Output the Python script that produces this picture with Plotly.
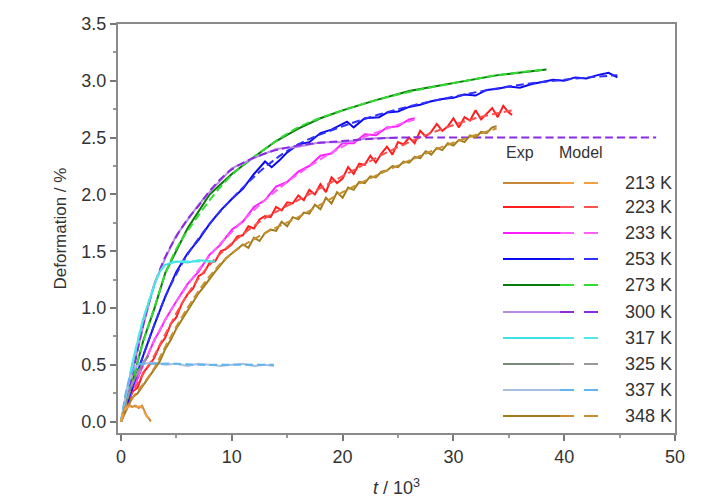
import plotly.graph_objects as go

# ---------------- data (t in 10^3, deformation in %) ----------------
temps = ["213 K", "223 K", "233 K", "253 K", "273 K", "300 K", "317 K", "325 K", "337 K", "348 K"]

exp_213_t = [0, 0.2, 0.4, 0.7, 1.0, 1.3, 1.6, 1.9, 2.1, 2.3, 2.5, 2.7]
exp_213_y = [0, 0.08, 0.13, 0.15, 0.13, 0.14, 0.12, 0.14, 0.10, 0.05, 0.03, 0.0]
mod_213_t = [0, 0.3, 0.6, 1.2, 1.8, 2.2, 2.7]
mod_213_y = [0, 0.10, 0.13, 0.13, 0.13, 0.07, 0.0]

exp_223_t = [0, 0.5, 1, 1.5, 2, 2.5, 3, 3.5, 4, 4.5, 5, 5.5, 6, 6.5, 7, 7.5, 8, 8.5, 9, 9.5,
             10, 10.5, 11, 11.5, 12, 12.5, 13, 13.5, 14, 14.5, 15, 15.5, 16, 16.5, 17, 17.5,
             18, 18.5, 19, 19.5, 20, 20.5, 21, 21.5, 22, 22.5, 23, 23.5, 24, 24.5, 25, 25.5,
             26, 26.5, 27, 27.5, 28, 28.5, 29, 29.5, 30, 30.5, 31, 31.5, 32, 32.5, 33, 33.5,
             34, 34.5, 35, 35.3]
exp_223_y = [0.00, 0.13, 0.26, 0.30, 0.43, 0.49, 0.56, 0.67, 0.74, 0.86, 0.92, 1.04, 1.12, 1.17,
             1.28, 1.31, 1.40, 1.41, 1.50, 1.52, 1.56, 1.63, 1.64, 1.72, 1.70, 1.78, 1.81, 1.80,
             1.89, 1.86, 1.93, 1.92, 1.99, 1.95, 2.04, 2.00, 2.09, 2.02, 2.15, 2.10, 2.14, 2.24,
             2.18, 2.27, 2.26, 2.34, 2.28, 2.36, 2.42, 2.35, 2.46, 2.44, 2.50, 2.45, 2.56, 2.51,
             2.55, 2.62, 2.56, 2.60, 2.67, 2.59, 2.68, 2.65, 2.74, 2.66, 2.71, 2.76, 2.68, 2.78,
             2.72, 2.70]
mod_223_t = [0, 1, 2, 3, 4, 6, 8, 10, 13, 16, 20, 24, 28, 32, 35.3]
mod_223_y = [0, 0.25, 0.42, 0.58, 0.77, 1.12, 1.38, 1.57, 1.79, 1.95, 2.16, 2.37, 2.54, 2.67, 2.74]

exp_233_t = [0, 0.5, 1, 1.5, 2, 2.5, 3, 3.5, 4, 5, 6, 7, 8, 9, 10, 11, 12, 13, 14, 15, 16,
             17, 18, 19, 20, 21, 22, 23, 24, 25, 26, 26.5]
exp_233_y = [0, 0.15, 0.28, 0.38, 0.50, 0.60, 0.72, 0.80, 0.90, 1.06, 1.21, 1.32, 1.47, 1.56,
             1.69, 1.76, 1.89, 1.95, 2.07, 2.11, 2.20, 2.25, 2.34, 2.36, 2.45, 2.45, 2.53, 2.52,
             2.59, 2.60, 2.66, 2.67]
mod_233_t = [0, 1, 2, 4, 6, 8, 10, 13, 16, 20, 24, 26.5]
mod_233_y = [0, 0.28, 0.50, 0.90, 1.20, 1.46, 1.67, 1.95, 2.18, 2.42, 2.58, 2.66]

exp_253_t = [0, 1, 2, 3, 4, 5, 6, 7, 8, 9, 10, 11, 12, 13, 13.6, 14.3, 15, 16, 17, 18, 19,
             20.4, 21, 22, 23.3, 24, 25, 26, 27, 28, 29, 30, 31, 32, 33, 34, 35, 36, 37, 38,
             39, 40, 41, 42, 43, 44, 44.8]
exp_253_y = [0, 0.30, 0.58, 0.85, 1.10, 1.32, 1.48, 1.60, 1.74, 1.86, 1.96, 2.05, 2.18, 2.29,
             2.24, 2.30, 2.37, 2.44, 2.46, 2.54, 2.57, 2.64, 2.59, 2.67, 2.68, 2.72, 2.73, 2.77,
             2.79, 2.82, 2.84, 2.85, 2.88, 2.87, 2.92, 2.93, 2.95, 2.94, 2.97, 2.99, 3.01, 3.00,
             3.03, 3.02, 3.05, 3.07, 3.03]
mod_253_t = [0, 1, 2, 3, 4, 5, 6, 8, 10, 13, 16, 20, 25, 30, 35, 40, 44.8]
mod_253_y = [0, 0.30, 0.58, 0.85, 1.10, 1.30, 1.47, 1.74, 1.96, 2.24, 2.44, 2.60, 2.75, 2.86,
             2.95, 3.01, 3.05]

exp_273_t = [0, 1, 2, 3, 4, 5, 6, 8, 10, 12, 14, 16, 18, 20, 23, 26, 30, 34, 38.4]
exp_273_y = [0, 0.34, 0.71, 0.99, 1.31, 1.51, 1.70, 2.00, 2.18, 2.33, 2.47, 2.58, 2.67, 2.74,
             2.83, 2.91, 2.98, 3.05, 3.10]
mod_273_t = [0, 1, 2, 3, 4, 5, 6.3, 8.5, 10, 12, 16, 20, 25, 30, 34, 38.4]
mod_273_y = [0, 0.35, 0.70, 1.00, 1.30, 1.52, 1.72, 2.01, 2.17, 2.33, 2.59, 2.74, 2.88, 2.98,
             3.05, 3.10]

exp_300_t = [0, 0.5, 1, 2, 3, 4, 5, 6, 7, 8, 10, 12, 14, 16, 18, 20, 22, 25]
exp_300_y = [0, 0.21, 0.41, 0.84, 1.21, 1.44, 1.64, 1.77, 1.91, 2.02, 2.23, 2.32, 2.40, 2.42,
             2.46, 2.46, 2.49, 2.50]
mod_300_t = [0, 0.5, 1, 2, 3, 4, 5, 6, 7, 8, 10, 13, 16, 20, 25, 30, 40, 48.3]
mod_300_y = [0, 0.20, 0.40, 0.85, 1.20, 1.45, 1.63, 1.78, 1.90, 2.03, 2.22, 2.36, 2.43, 2.47,
             2.50, 2.50, 2.50, 2.50]

exp_317_t = [0, 0.5, 1, 2, 3, 3.5, 4, 5, 6, 7, 8.5]
exp_317_y = [0, 0.24, 0.50, 0.90, 1.20, 1.32, 1.38, 1.41, 1.40, 1.42, 1.41]
mod_317_t = [0, 0.5, 1, 2, 3, 3.5, 4, 5, 6, 7, 8.5]
mod_317_y = [0, 0.25, 0.50, 0.90, 1.20, 1.32, 1.38, 1.41, 1.41, 1.41, 1.41]

exp_325_t = [0, 0.5, 1, 1.5, 2, 2.5]
exp_325_y = [0, 0.18, 0.33, 0.42, 0.52, 0.58]
mod_325_t = [0, 0.5, 1, 1.5, 2, 2.5]
mod_325_y = [0, 0.18, 0.33, 0.43, 0.52, 0.58]

exp_337_t = [0, 0.5, 1, 1.5, 2, 3, 4, 5, 6, 7, 8, 9, 10, 11, 12, 13, 13.8]
exp_337_y = [0, 0.28, 0.44, 0.50, 0.51, 0.52, 0.50, 0.51, 0.49, 0.51, 0.50, 0.49, 0.50, 0.51,
             0.49, 0.50, 0.49]
mod_337_t = [0, 0.5, 1, 1.5, 2, 3, 5, 7, 9, 11, 13.8]
mod_337_y = [0, 0.28, 0.44, 0.50, 0.51, 0.51, 0.51, 0.50, 0.50, 0.50, 0.50]

exp_348_t = [0, 0.5, 1, 1.5, 2, 2.5, 3, 3.5, 4, 4.5, 5, 5.5, 6, 6.5, 7, 7.5, 8, 8.5, 9, 9.5,
             10, 10.5, 11, 11.5, 12, 12.5, 13, 13.5, 14, 14.5, 15, 15.5, 16, 16.5, 17, 17.5,
             18, 18.5, 19, 19.5, 20, 20.5, 21, 21.5, 22, 22.5, 23, 23.5, 24, 24.5, 25, 25.5,
             26, 26.5, 27, 27.5, 28, 28.5, 29, 29.5, 30, 30.5, 31, 31.5, 32, 32.5, 33, 33.5, 33.9]
exp_348_y = [0.00, 0.11, 0.21, 0.25, 0.32, 0.38, 0.46, 0.53, 0.64, 0.72, 0.82, 0.90, 0.98, 1.05,
             1.13, 1.19, 1.26, 1.32, 1.38, 1.44, 1.48, 1.52, 1.56, 1.53, 1.62, 1.59, 1.66, 1.69,
             1.68, 1.76, 1.72, 1.80, 1.78, 1.84, 1.83, 1.91, 1.87, 1.97, 1.92, 2.02, 1.97, 2.06,
             2.04, 2.11, 2.10, 2.16, 2.15, 2.20, 2.21, 2.25, 2.24, 2.29, 2.28, 2.33, 2.32, 2.38,
             2.35, 2.41, 2.39, 2.45, 2.43, 2.48, 2.46, 2.52, 2.50, 2.55, 2.54, 2.59, 2.60]
mod_348_t = [0, 1, 2, 3, 4, 6, 8, 10, 13, 16, 20, 24, 28, 31, 33.9]
mod_348_y = [0, 0.20, 0.33, 0.47, 0.66, 1.00, 1.28, 1.48, 1.66, 1.80, 2.02, 2.21, 2.38, 2.49, 2.58]

exp_t = [exp_213_t, exp_223_t, exp_233_t, exp_253_t, exp_273_t, exp_300_t, exp_317_t, exp_325_t, exp_337_t, exp_348_t]
exp_y = [exp_213_y, exp_223_y, exp_233_y, exp_253_y, exp_273_y, exp_300_y, exp_317_y, exp_325_y, exp_337_y, exp_348_y]
mod_t = [mod_213_t, mod_223_t, mod_233_t, mod_253_t, mod_273_t, mod_300_t, mod_317_t, mod_325_t, mod_337_t, mod_348_t]
mod_y = [mod_213_y, mod_223_y, mod_233_y, mod_253_y, mod_273_y, mod_300_y, mod_317_y, mod_325_y, mod_337_y, mod_348_y]

exp_colors = ["#C8883A", "#FF1E1E", "#FF1EFF", "#0A0AF0", "#0A7A0A", "#B98AE8", "#40E0E0", "#7A8A7A", "#A8C0E0", "#A07C1C"]
mod_colors = ["#F0A040", "#FF5050", "#FF60FF", "#3030FF", "#30DD30", "#8A2BE2", "#50E8E8", "#999999", "#60B4F0", "#C89030"]

# ---------------- figure ----------------
fig = go.Figure()
order = [1, 2, 3, 4, 5, 6, 7, 8, 9, 0]
for i in order:
    fig.add_trace(go.Scatter(x=exp_t[i], y=exp_y[i], mode="lines", name=temps[i] + " Exp",
                             line=dict(color=exp_colors[i], width=2), showlegend=False))
    fig.add_trace(go.Scatter(x=mod_t[i], y=mod_y[i], mode="lines", name=temps[i] + " Model",
                             line=dict(color=mod_colors[i], width=2, dash="8px,4px", shape="spline"),
                             showlegend=False))

# ---------------- custom two-column legend ----------------
L, R, T, B = 118, 675, 24, 433
def px2paper(px, py):
    return (px - L) / (R - L), (B - py) / (B - T)

rows_py = [183, 207, 233, 259, 285, 312, 338, 364, 390, 416]
shapes = []
annotations = []
hx, hy = px2paper(520, 153)
annotations.append(dict(x=hx, y=hy, xref="paper", yref="paper", text="Exp", showarrow=False,
                        font=dict(size=16, color="#333"), xanchor="center", yanchor="middle"))
hx, hy = px2paper(581, 153)
annotations.append(dict(x=hx, y=hy, xref="paper", yref="paper", text="Model", showarrow=False,
                        font=dict(size=16, color="#333"), xanchor="center", yanchor="middle"))
for i, py in enumerate(rows_py):
    x0, y0 = px2paper(503, py)
    x1, _ = px2paper(560, py)
    x2, _ = px2paper(607, py)
    xt, _ = px2paper(674, py)
    shapes.append(dict(type="line", xref="paper", yref="paper", x0=x0, x1=x1, y0=y0, y1=y0,
                       line=dict(color=exp_colors[i], width=2)))
    shapes.append(dict(type="line", xref="paper", yref="paper", x0=x1, x1=x2, y0=y0, y1=y0,
                       line=dict(color=mod_colors[i], width=2, dash="14px,10px")))
    annotations.append(dict(x=xt, y=y0, xref="paper", yref="paper", text=temps[i], showarrow=False,
                            font=dict(size=18, color="#333"), xanchor="right", yanchor="middle"))

fig.update_layout(
    width=710, height=504,
    margin=dict(l=L, r=710 - R, t=T, b=504 - B),
    paper_bgcolor="white", plot_bgcolor="white",
    font=dict(family="Liberation Sans, Arial, sans-serif", color="#333"),
    shapes=shapes, annotations=annotations,
    showlegend=False,
)
fig.update_xaxes(range=[-0.27, 50], dtick=10, tick0=0, showgrid=False, zeroline=False,
                 showline=True, linecolor="#8a8a8a", linewidth=2, mirror=True, automargin=False,
                 ticks="outside", ticklen=6, tickwidth=1.5, tickcolor="#777",
                 minor=dict(dtick=5, ticks="outside", ticklen=3, tickcolor="#999"),
                 tickfont=dict(size=18, color="#333"),
                 title=dict(text="<i>t</i> / 10<sup>3</sup>", font=dict(size=18, color="#333"), standoff=16))
fig.update_yaxes(range=[-0.1, 3.5], dtick=0.5, tick0=0, tickformat=".1f", showgrid=False, zeroline=False,
                 showline=True, linecolor="#8a8a8a", linewidth=2, mirror=True, automargin=False,
                 ticks="outside", ticklen=6, tickwidth=1.5, tickcolor="#777",
                 minor=dict(dtick=0.25, ticks="outside", ticklen=3, tickcolor="#999"),
                 tickfont=dict(size=18, color="#333"),
                 title=dict(text="Deformation / %", font=dict(size=17, color="#333"), standoff=10))

fig.write_html("out.html")
